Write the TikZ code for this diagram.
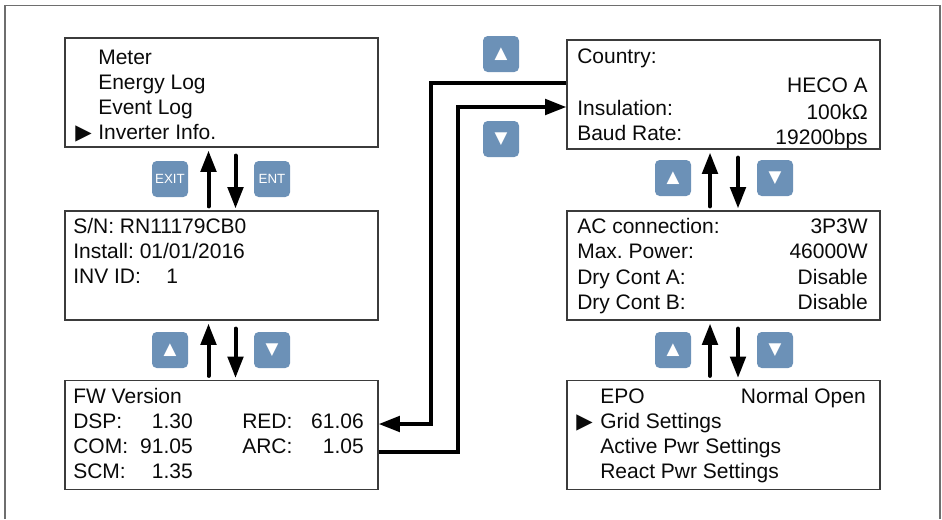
\documentclass[tikz,border=0pt]{standalone}
\usepackage{fontspec}
\setmainfont{Liberation Sans}
\newfontfamily\symfont{DejaVu Sans}
\usetikzlibrary{arrows.meta,positioning,calc}
\definecolor{keyblue}{RGB}{108,145,183}
\definecolor{framegray}{RGB}{110,110,110}
\definecolor{ink}{RGB}{10,10,10}
\frenchspacing
\tikzset{
  >={Triangle[length=16pt,width=11.5pt]},
  screen/.style={draw=ink!80,line width=0.9pt,minimum width=234.75pt,
    minimum height=81.75pt,inner sep=0pt},
  btn/.style={fill=keyblue,rounded corners=3.5pt,minimum size=27pt,inner sep=0pt,
    text=white,font=\fontsize{10}{11}\selectfont},
  arrowbtn/.style={btn,font=\symfont\fontsize{12.5}{13}\selectfont},
  row/.style={anchor=base west,inner sep=0pt,text=ink,font=\fontsize{15.75}{18}\selectfont},
  rowr/.style={row,anchor=base east},
  pointer/.style={anchor=base west,inner sep=0pt,text=ink,font=\symfont\fontsize{16}{16}\selectfont},
  nav/.style={->,line width=3pt,line cap=round},
  link/.style={->,line width=3pt},
}
\begin{document}
\begin{tikzpicture}[x=0.75pt,y=-0.75pt]
  \useasboundingbox (0,0) rectangle (942,519);
  \draw[framegray,line width=1.1pt] (5,519) -- (5,5.5) -- (940,5.5) -- (940,519);

  % screens
  \node[screen] (menu) at (221.5,92.5) {};
  \node[screen] (sn) at (221.5,265.5) {};
  \node[screen] (fw) at (221.5,435) {};
  \node[screen] (country) at (723.5,94.5) {};
  \node[screen] (ac) at (723.5,265.5) {};
  \node[screen] (epo) at (723.5,435) {};

  % menu
  \node[row] (m1) at (98,64) {Meter};
  \node[row] (m2) at (98,89) {Energy Log};
  \node[row] (m3) at (98,114) {Event Log};
  \node[pointer] (mp) at (75,139) {▶};
  \node[row] (m4) at (98,139) {Inverter Info.};

  % inverter info
  \node[row] (s1) at (73,233) {S/N: RN11179CB0};
  \node[row] (s2) at (73,258) {Install: 01/01/2016};
  \node[row] (s3) at (73,283) {INV ID:};
  \node[row] (s3v) at (166,283) {1};

  % firmware
  \node[row] (f0) at (73,403) {FW Version};
  \node[row] (f1) at (73,428) {DSP:};
  \node[rowr] (f1v) at (193,428) {1.30};
  \node[row] (f2) at (242,428) {RED:};
  \node[rowr] (f2v) at (364,428) {61.06};
  \node[row] (f3) at (73,453) {COM:};
  \node[rowr] (f3v) at (193,453) {91.05};
  \node[row] (f4) at (242,453) {ARC:};
  \node[rowr] (f4v) at (364,453) {1.05};
  \node[row] (f5) at (73,478) {SCM:};
  \node[rowr] (f5v) at (193,478) {1.35};

  % country
  \node[row] (c1) at (577,63) {Country:};
  \node[rowr] (c1v) at (868,92) {HECO A};
  \node[row] (c2) at (577,115) {Insulation:};
  \node[rowr] (c2v) at (868,119) {100kΩ};
  \node[row] (c3) at (577,140) {Baud Rate:};
  \node[rowr] (c3v) at (868,144) {19200bps};

  % ac connection
  \node[row] (a1) at (577,233) {AC connection:};
  \node[rowr] (a1v) at (868,233) {3P3W};
  \node[row] (a2) at (577,258) {Max. Power:};
  \node[rowr] (a2v) at (868,258) {46000W};
  \node[row] (a3) at (577,284) {Dry Cont A:};
  \node[rowr] (a3v) at (868,284) {Disable};
  \node[row] (a4) at (577,309) {Dry Cont B:};
  \node[rowr] (a4v) at (868,309) {Disable};

  % epo / settings
  \node[row] (e1) at (600,403) {EPO};
  \node[rowr] (e1v) at (866,403) {Normal Open};
  \node[pointer] (ep) at (576,428) {▶};
  \node[row] (e2) at (600,428) {Grid Settings};
  \node[row] (e3) at (600,453) {Active Pwr Settings};
  \node[row] (e4) at (600,478) {React Pwr Settings};

  % keys
  \node[btn] (exit) at (170,179) {EXIT};
  \node[btn] (ent) at (272,179) {ENT};
  \node[arrowbtn] (lup) at (170,350) {▲};
  \node[arrowbtn] (ldn) at (272,350) {▼};
  \node[arrowbtn] (tup) at (501,54) {▲};
  \node[arrowbtn] (tdn) at (501,139) {▼};
  \node[arrowbtn] (rup1) at (673,178) {▲};
  \node[arrowbtn] (rdn1) at (775,178) {▼};
  \node[arrowbtn] (rup2) at (673,350) {▲};
  \node[arrowbtn] (rdn2) at (775,350) {▼};

  % up / down
  \draw[nav] ($(sn.north)+(-13,-4)$) -- ($(menu.south)+(-13,3)$);
  \draw[nav] ($(menu.south)+(14,8)$) -- ($(sn.north)+(14,-2)$);
  \draw[nav] ($(fw.north)+(-13,-4)$) -- ($(sn.south)+(-13,3)$);
  \draw[nav] ($(sn.south)+(14,8)$) -- ($(fw.north)+(14,-2)$);
  \draw[nav] ($(ac.north)+(-13.5,-4)$) -- ($(country.south)+(-13.5,3)$);
  \draw[nav] ($(country.south)+(14.5,8)$) -- ($(ac.north)+(14.5,-2)$);
  \draw[nav] ($(epo.north)+(-13.5,-4)$) -- ($(ac.south)+(-13.5,3)$);
  \draw[nav] ($(ac.south)+(14.5,8)$) -- ($(epo.north)+(14.5,-2)$);

  % wrap-around
  \draw[link] ($(country.west)+(0,-11.5)$) -- ++(-135,0) |- ($(fw.east)+(0,-11)$);
  \draw[link] ($(fw.east)+(0,17)$) -- ++(79,0) |- ($(country.west)+(0,12.5)$);
\end{tikzpicture}
\end{document}
